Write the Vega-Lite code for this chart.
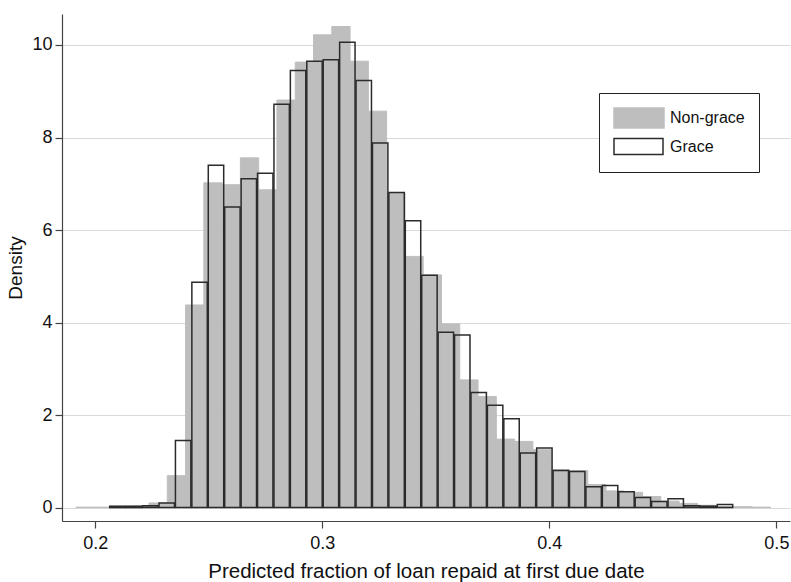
{
  "$schema": "https://vega.github.io/schema/vega-lite/v6.json",
  "width": 728,
  "height": 507,
  "autosize": {"type": "none"},
  "padding": {"left": 62, "top": 14, "right": 1, "bottom": 61},
  "background": "white",
  "config": {
    "view": {"stroke": null},
    "font": "Liberation Sans",
    "axis": {
      "domainColor": "#444444",
      "domainWidth": 1.2,
      "tickColor": "#444444",
      "tickWidth": 1.2,
      "tickSize": 7,
      "labelFontSize": 18,
      "labelColor": "#111111",
      "titleFontSize": 19,
      "titleFontWeight": "normal",
      "titleColor": "#111111",
      "labelFlush": false
    }
  },
  "data": {
    "values": [
      {"g": "Non-grace", "x0": 0.191190, "x1": 0.199243, "d": 0.01},
      {"g": "Non-grace", "x0": 0.199243, "x1": 0.207296, "d": 0.01},
      {"g": "Non-grace", "x0": 0.207296, "x1": 0.215349, "d": 0.02},
      {"g": "Non-grace", "x0": 0.215349, "x1": 0.223402, "d": 0.03},
      {"g": "Non-grace", "x0": 0.223402, "x1": 0.231455, "d": 0.10},
      {"g": "Non-grace", "x0": 0.231455, "x1": 0.239508, "d": 0.69},
      {"g": "Non-grace", "x0": 0.239508, "x1": 0.247561, "d": 4.38},
      {"g": "Non-grace", "x0": 0.247561, "x1": 0.255614, "d": 7.02},
      {"g": "Non-grace", "x0": 0.255614, "x1": 0.263667, "d": 6.98},
      {"g": "Non-grace", "x0": 0.263667, "x1": 0.271720, "d": 7.56},
      {"g": "Non-grace", "x0": 0.271720, "x1": 0.279773, "d": 6.87},
      {"g": "Non-grace", "x0": 0.279773, "x1": 0.287826, "d": 8.81},
      {"g": "Non-grace", "x0": 0.287826, "x1": 0.295879, "d": 9.63},
      {"g": "Non-grace", "x0": 0.295879, "x1": 0.303932, "d": 10.22},
      {"g": "Non-grace", "x0": 0.303932, "x1": 0.311985, "d": 10.40},
      {"g": "Non-grace", "x0": 0.311985, "x1": 0.320038, "d": 9.65},
      {"g": "Non-grace", "x0": 0.320038, "x1": 0.328091, "d": 8.57},
      {"g": "Non-grace", "x0": 0.328091, "x1": 0.336144, "d": 6.80},
      {"g": "Non-grace", "x0": 0.336144, "x1": 0.344197, "d": 5.43},
      {"g": "Non-grace", "x0": 0.344197, "x1": 0.352250, "d": 5.03},
      {"g": "Non-grace", "x0": 0.352250, "x1": 0.360303, "d": 3.97},
      {"g": "Non-grace", "x0": 0.360303, "x1": 0.368356, "d": 2.76},
      {"g": "Non-grace", "x0": 0.368356, "x1": 0.376409, "d": 2.40},
      {"g": "Non-grace", "x0": 0.376409, "x1": 0.384462, "d": 1.48},
      {"g": "Non-grace", "x0": 0.384462, "x1": 0.392515, "d": 1.43},
      {"g": "Non-grace", "x0": 0.392515, "x1": 0.400568, "d": 1.25},
      {"g": "Non-grace", "x0": 0.400568, "x1": 0.408621, "d": 0.82},
      {"g": "Non-grace", "x0": 0.408621, "x1": 0.416674, "d": 0.80},
      {"g": "Non-grace", "x0": 0.416674, "x1": 0.424727, "d": 0.50},
      {"g": "Non-grace", "x0": 0.424727, "x1": 0.432780, "d": 0.36},
      {"g": "Non-grace", "x0": 0.432780, "x1": 0.440833, "d": 0.33},
      {"g": "Non-grace", "x0": 0.440833, "x1": 0.448886, "d": 0.24},
      {"g": "Non-grace", "x0": 0.448886, "x1": 0.456939, "d": 0.14},
      {"g": "Non-grace", "x0": 0.456939, "x1": 0.464992, "d": 0.09},
      {"g": "Non-grace", "x0": 0.464992, "x1": 0.473045, "d": 0.05},
      {"g": "Non-grace", "x0": 0.473045, "x1": 0.481098, "d": 0.02},
      {"g": "Non-grace", "x0": 0.481098, "x1": 0.489151, "d": 0.02},
      {"g": "Non-grace", "x0": 0.489151, "x1": 0.497204, "d": 0.01},
      {"g": "Grace", "x0": 0.205900, "x1": 0.213133, "d": 0.03},
      {"g": "Grace", "x0": 0.213133, "x1": 0.220366, "d": 0.03},
      {"g": "Grace", "x0": 0.220366, "x1": 0.227599, "d": 0.04},
      {"g": "Grace", "x0": 0.227599, "x1": 0.234832, "d": 0.10},
      {"g": "Grace", "x0": 0.234832, "x1": 0.242065, "d": 1.45},
      {"g": "Grace", "x0": 0.242065, "x1": 0.249298, "d": 4.87},
      {"g": "Grace", "x0": 0.249298, "x1": 0.256531, "d": 7.40},
      {"g": "Grace", "x0": 0.256531, "x1": 0.263764, "d": 6.50},
      {"g": "Grace", "x0": 0.263764, "x1": 0.270997, "d": 7.11},
      {"g": "Grace", "x0": 0.270997, "x1": 0.278230, "d": 7.23},
      {"g": "Grace", "x0": 0.278230, "x1": 0.285463, "d": 8.72},
      {"g": "Grace", "x0": 0.285463, "x1": 0.292696, "d": 9.45},
      {"g": "Grace", "x0": 0.292696, "x1": 0.299929, "d": 9.65},
      {"g": "Grace", "x0": 0.299929, "x1": 0.307162, "d": 9.68},
      {"g": "Grace", "x0": 0.307162, "x1": 0.314395, "d": 10.06},
      {"g": "Grace", "x0": 0.314395, "x1": 0.321628, "d": 9.23},
      {"g": "Grace", "x0": 0.321628, "x1": 0.328861, "d": 7.88},
      {"g": "Grace", "x0": 0.328861, "x1": 0.336094, "d": 6.81},
      {"g": "Grace", "x0": 0.336094, "x1": 0.343327, "d": 6.20},
      {"g": "Grace", "x0": 0.343327, "x1": 0.350560, "d": 5.02},
      {"g": "Grace", "x0": 0.350560, "x1": 0.357793, "d": 3.79},
      {"g": "Grace", "x0": 0.357793, "x1": 0.365026, "d": 3.73},
      {"g": "Grace", "x0": 0.365026, "x1": 0.372259, "d": 2.49},
      {"g": "Grace", "x0": 0.372259, "x1": 0.379492, "d": 2.21},
      {"g": "Grace", "x0": 0.379492, "x1": 0.386725, "d": 1.92},
      {"g": "Grace", "x0": 0.386725, "x1": 0.393958, "d": 1.18},
      {"g": "Grace", "x0": 0.393958, "x1": 0.401191, "d": 1.29},
      {"g": "Grace", "x0": 0.401191, "x1": 0.408424, "d": 0.80},
      {"g": "Grace", "x0": 0.408424, "x1": 0.415657, "d": 0.78},
      {"g": "Grace", "x0": 0.415657, "x1": 0.422890, "d": 0.45},
      {"g": "Grace", "x0": 0.422890, "x1": 0.430123, "d": 0.48},
      {"g": "Grace", "x0": 0.430123, "x1": 0.437356, "d": 0.34},
      {"g": "Grace", "x0": 0.437356, "x1": 0.444589, "d": 0.22},
      {"g": "Grace", "x0": 0.444589, "x1": 0.451822, "d": 0.13},
      {"g": "Grace", "x0": 0.451822, "x1": 0.459055, "d": 0.19},
      {"g": "Grace", "x0": 0.459055, "x1": 0.466288, "d": 0.04},
      {"g": "Grace", "x0": 0.466288, "x1": 0.473521, "d": 0.03},
      {"g": "Grace", "x0": 0.473521, "x1": 0.480754, "d": 0.065}
    ]
  },
  "encoding": {
    "x": {
      "field": "x0",
      "type": "quantitative",
      "bin": "binned",
      "scale": {"domain": [0.1853, 0.506], "nice": false, "zero": false},
      "axis": {"values": [0.2, 0.3, 0.4, 0.5], "format": ".1f", "grid": false, "labelPadding": 6, "titlePadding": 9, "titleFontSize": 20.5},
      "title": "Predicted fraction of loan repaid at first due date"
    },
    "x2": {"field": "x1"},
    "y": {
      "field": "d",
      "type": "quantitative",
      "scale": {"domain": [-0.29, 10.67], "nice": false, "zero": false},
      "axis": {"values": [0, 2, 4, 6, 8, 10], "grid": true, "gridColor": "#d9d9d9", "gridWidth": 1, "labelPadding": 3, "titlePadding": 6},
      "title": "Density"
    },
    "fill": {
      "field": "g",
      "type": "nominal",
      "scale": {"domain": ["Non-grace", "Grace"], "range": ["#bebebe", "transparent"]},
      "legend": {
        "title": null, "orient": "none", "legendX": 537, "legendY": 79, "direction": "vertical",
        "padding": 14, "strokeColor": "#222222", "fillColor": "white",
        "symbolType": "M-1,-1H4V1H-1Z", "symbolSize": 400, "symbolStrokeWidth": 1.5,
        "labelFontSize": 16, "labelOffset": 35, "rowPadding": 4.5, "labelColor": "#111111",
        "encode": {"symbols": {"update": {"shape": {"signal": "datum.value === 'Grace' ? 'M-1,-0.8H3.9V0.8H-1Z' : 'M-1,-1H4V1H-1Z'"}}}}
      }
    },
    "stroke": {
      "field": "g",
      "type": "nominal",
      "scale": {"domain": ["Non-grace", "Grace"], "range": ["#bebebe", "#2b2b2b"]},
      "legend": {
        "title": null, "orient": "none", "legendX": 537, "legendY": 79, "direction": "vertical",
        "padding": 14, "strokeColor": "#222222", "fillColor": "white",
        "symbolType": "M-1,-1H4V1H-1Z", "symbolSize": 400, "symbolStrokeWidth": 1.5,
        "labelFontSize": 16, "labelOffset": 35, "rowPadding": 4.5, "labelColor": "#111111",
        "encode": {"symbols": {"update": {"shape": {"signal": "datum.value === 'Grace' ? 'M-1,-0.8H3.9V0.8H-1Z' : 'M-1,-1H4V1H-1Z'"}}}}
      }
    }
  },
  "layer": [
    {
      "transform": [{"filter": "datum.g === 'Non-grace'"}],
      "mark": {"type": "bar", "strokeWidth": 1, "binSpacing": 0}
    },
    {
      "transform": [{"filter": "datum.g === 'Grace'"}],
      "mark": {"type": "bar", "strokeWidth": 1.5, "binSpacing": 1}
    }
  ]
}
